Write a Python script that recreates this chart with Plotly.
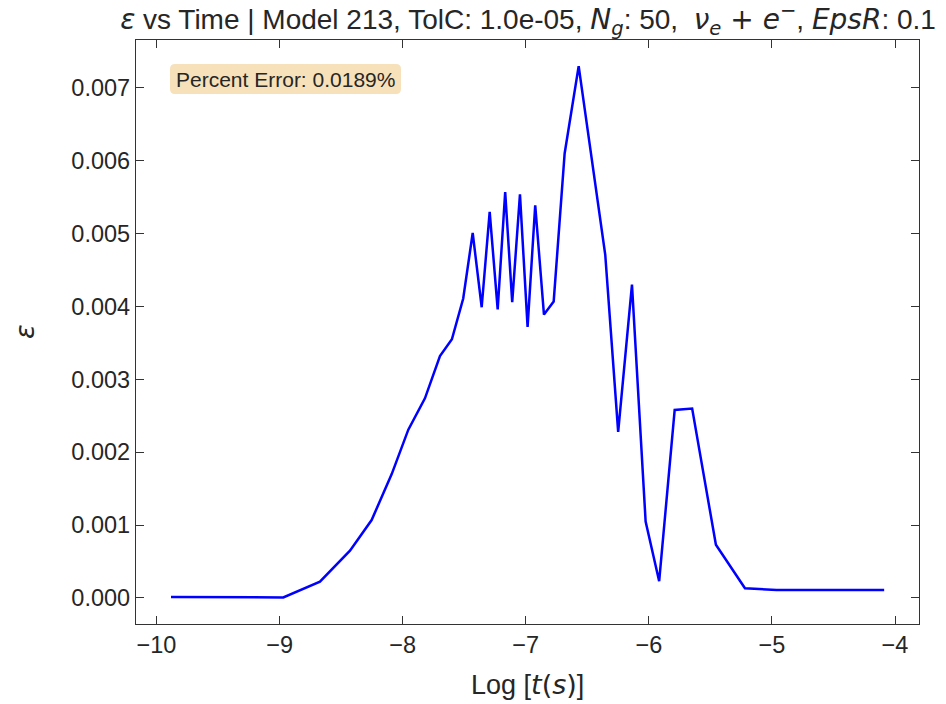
import plotly.graph_objects as go

log_t = [-9.882, -9.58, -9.27, -8.970, -8.672, -8.428, -8.252, -8.089, -7.954, -7.819,
         -7.697, -7.600, -7.508, -7.431, -7.358, -7.293, -7.228, -7.167, -7.110, -7.047,
         -6.985, -6.923, -6.852, -6.773, -6.684, -6.570, -6.354, -6.249, -6.137, -6.026,
         -5.916, -5.790, -5.648, -5.455, -5.219, -4.962, -4.088]
eps = [0.000012, 0.000008, 0.000007, 0.000008, 0.000224, 0.00065, 0.00107, 0.00170, 0.00231, 0.00274,
       0.00332, 0.00355, 0.00411, 0.00501, 0.00399, 0.00530, 0.00396, 0.00557, 0.00406, 0.00554,
       0.00372, 0.00539, 0.00389, 0.00407, 0.00610, 0.00730, 0.00471, 0.00228, 0.00430, 0.00105,
       0.00023, 0.00258, 0.00260, 0.00073, 0.000133, 0.00011, 0.00011]

x_ticks = [-10, -9, -8, -7, -6, -5, -4]
y_ticks = [0.000, 0.001, 0.002, 0.003, 0.004, 0.005, 0.006, 0.007]

M = '<span style="font-family:DejaVu Sans">'
title_text = (M + "<i>ε</i></span> vs Time | Model 213, TolC: 1.0e-05, "
              + M + "<i>N</i><sub><i>g</i></sub></span>: 50,  "
              + M + "<i>ν</i><sub><i>e</i></sub> + <i>e</i><sup>−</sup></span>, "
              + M + "<i>EpsR</i></span>: 0.1")
box_text = "Percent Error: 0.0189%"
xlabel_text = "Log [" + M + "<i>t</i>(<i>s</i>)</span>]"
ylabel_text = M + "<i>ε</i></span>"

FONT = "Liberation Sans, Arial, sans-serif"
AX = "#333333"
TXT = "#262626"

W, H = 946, 704
L, R, T, B = 136, 27, 40, 80
pw, ph = W - L - R, H - T - B

fig = go.Figure()
fig.add_trace(go.Scatter(x=log_t, y=eps, mode="lines",
                         line=dict(color="#0000ff", width=2.5), showlegend=False))

axis_common = dict(showline=True, linecolor=AX, linewidth=1.3, mirror="allticks",
                   ticks="inside", ticklen=8, tickwidth=1.3, tickcolor=AX,
                   showgrid=False, zeroline=False,
                   tickfont=dict(family=FONT, size=23.5, color=TXT))

fig.update_xaxes(range=[-10.1665, -3.805], tickvals=x_ticks, **axis_common)
fig.update_yaxes(range=[-0.000357, 0.007658], tickvals=y_ticks, tickformat=".3f", **axis_common)

def px2x(p):
    return (p - L) / pw
def py2y(p):
    return 1 - (p - T) / ph

x0, x1, y0, y1, r = 170, 401, 64, 94, 5
rx, ry = r / pw, r / ph
X0, X1, Y0, Y1 = px2x(x0), px2x(x1), py2y(y1), py2y(y0)
path = (f"M {X0+rx},{Y0} L {X1-rx},{Y0} Q {X1},{Y0} {X1},{Y0+ry} "
        f"L {X1},{Y1-ry} Q {X1},{Y1} {X1-rx},{Y1} L {X0+rx},{Y1} "
        f"Q {X0},{Y1} {X0},{Y1-ry} L {X0},{Y0+ry} Q {X0},{Y0} {X0+rx},{Y0} Z")
fig.add_shape(type="path", path=path, xref="paper", yref="paper",
              fillcolor="rgba(245,222,179,0.9)", line=dict(width=0), layer="above")

fig.add_annotation(text=box_text, xref="paper", yref="paper",
                   x=px2x((x0 + x1) / 2), y=py2y((y0 + y1) / 2), xanchor="center", yanchor="middle",
                   showarrow=False, font=dict(family=FONT, size=21, color=TXT))

fig.add_annotation(text=xlabel_text, xref="paper", yref="paper",
                   x=0.5, y=py2y(684), xanchor="center", yanchor="middle",
                   showarrow=False, font=dict(family=FONT, size=27, color=TXT))
fig.add_annotation(text=ylabel_text, xref="paper", yref="paper",
                   x=px2x(24), y=py2y(332), xanchor="center", yanchor="middle", textangle=-90,
                   showarrow=False, font=dict(family=FONT, size=27, color=TXT))

fig.update_layout(
    width=W, height=H,
    margin=dict(l=L, r=R, t=T, b=B),
    paper_bgcolor="white", plot_bgcolor="white",
    title=dict(text=title_text, x=px2x(528), xref="paper", xanchor="center",
               y=1 - 19 / H, yref="container", yanchor="middle",
               font=dict(family=FONT, size=28, color=TXT)),
)

fig.write_html("out.html")
